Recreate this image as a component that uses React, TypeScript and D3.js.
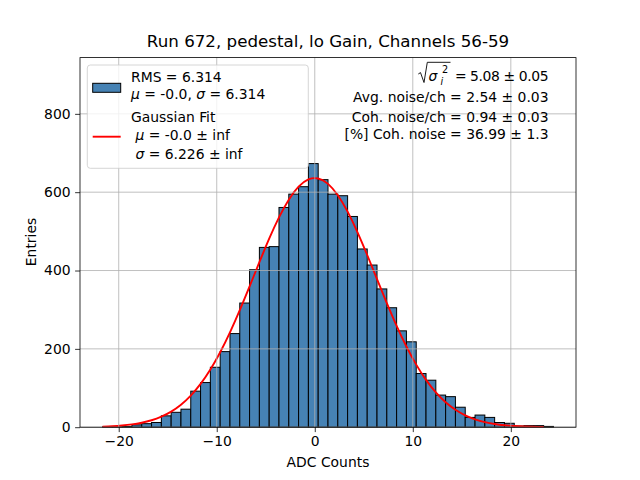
import { useEffect, useRef } from 'react';
import * as d3 from 'd3';

// histogram of ADC counts, bins of width 1 starting at -21.65
const binStart = -21.65;
const binWidth = 1.0;
const counts = [
  1, 1, 2, 6, 9, 12, 29, 38, 46, 92, 114, 153, 193, 239, 317, 402, 459, 461,
  561, 595, 614, 673, 632, 595, 591, 538, 455, 414, 353, 305, 246, 218, 137, 120,
  82, 78, 51, 25, 31, 25, 12, 10, 3, 4, 4, 2,
];
const xTicks = [-20, -10, 0, 10, 20];
const yTicks = [0, 200, 400, 600, 800];

// gaussian fit parameters
const fitMu = 0.0;
const fitSigma = 6.226;
const fitAmp = 636;

const title = 'Run 672, pedestal, lo Gain, Channels 56-59';
const noiseLines = [
  'Avg. noise/ch = 2.54 ± 0.03',
  'Coh. noise/ch = 0.94 ± 0.03',
  '[%] Coh. noise = 36.99 ± 1.3',
];

const FONT = '"DejaVu Sans", sans-serif';

export default function App() {
  const svgRef = useRef<SVGSVGElement>(null);

  useEffect(() => {
    if (!svgRef.current) return;
    const svg = d3.select(svgRef.current);
    svg.selectAll('*').remove();

    const left = 80, right = 576, top = 57.6, bottom = 427.2;

    const x = d3.scaleLinear().domain([-23.95, 26.65]).range([left, right]);
    const y = d3.scaleLinear().domain([0, 943.6]).range([bottom, top]);

    const bins = counts.map((c, i) => ({
      x0: binStart + i * binWidth,
      x1: binStart + (i + 1) * binWidth,
      value: c,
    }));

    // bars
    svg.append('g')
      .selectAll('rect')
      .data(bins)
      .enter()
      .append('rect')
      .attr('x', d => x(d.x0))
      .attr('y', d => y(d.value))
      .attr('width', d => x(d.x1) - x(d.x0))
      .attr('height', d => y(0) - y(d.value))
      .attr('fill', '#4682b4')
      .attr('stroke', '#000')
      .attr('stroke-width', 1);

    // fit curve, evaluated at the bin left edges
    const fitPts = bins.map(b => [b.x0, fitAmp * Math.exp(-((b.x0 - fitMu) ** 2) / (2 * fitSigma ** 2))]);
    const line = d3.line<number[]>()
      .x(d => x(d[0]))
      .y(d => y(d[1]))
      .curve(d3.curveNatural);
    svg.append('path')
      .attr('d', line(fitPts))
      .attr('fill', 'none')
      .attr('stroke', 'red')
      .attr('stroke-width', 1.9);

    // grid on top of patches, like matplotlib
    const grid = svg.append('g').attr('stroke', '#b0b0b0').attr('stroke-width', 0.8);
    xTicks.forEach(t => {
      grid.append('line').attr('x1', x(t)).attr('x2', x(t)).attr('y1', top).attr('y2', bottom);
    });
    yTicks.forEach(t => {
      grid.append('line').attr('x1', left).attr('x2', right).attr('y1', y(t)).attr('y2', y(t));
    });

    // axes
    const xAxis = d3.axisBottom(x).tickValues(xTicks).tickSize(4.9).tickPadding(4)
      .tickFormat(d => d3.format('d')(d as number).replace('-', '\u2212'));
    const gx = svg.append('g').attr('transform', `translate(0,${bottom})`).call(xAxis);
    const yAxis = d3.axisLeft(y).tickValues(yTicks).tickSize(4.9).tickPadding(4.5);
    const gy = svg.append('g').attr('transform', `translate(${left},0)`).call(yAxis);
    [gx, gy].forEach(g => {
      g.select('.domain').remove();
      g.selectAll('.tick line').attr('stroke', '#000').attr('stroke-width', 0.8);
      g.selectAll('.tick text')
        .attr('font-family', FONT)
        .attr('font-size', 13.9)
        .attr('fill', '#000');
    });
    gx.selectAll('.tick text').attr('dy', '0.72em');

    // frame
    svg.append('rect')
      .attr('x', left).attr('y', top)
      .attr('width', right - left).attr('height', bottom - top)
      .attr('fill', 'none').attr('stroke', '#000').attr('stroke-width', 0.8);

    const txt = (s: string, tx: number, ty: number, opts: any = {}) =>
      svg.append('text')
        .attr('x', tx).attr('y', ty)
        .attr('font-family', FONT)
        .attr('font-size', opts.size || 13.9)
        .attr('text-anchor', opts.anchor || 'start')
        .attr('fill', '#000')
        .text(s);

    txt(title, 328, 47, { anchor: 'middle', size: 16.7 });
    txt('ADC Counts', 328, 467, { anchor: 'middle' });
    txt('Entries', 0, 0, { anchor: 'middle' }).attr('transform', 'translate(36,242) rotate(-90)');

    // legend
    svg.append('rect')
      .attr('x', 87.3).attr('y', 65)
      .attr('width', 221).attr('height', 103.3)
      .attr('rx', 3)
      .attr('fill', 'white').attr('fill-opacity', 0.8)
      .attr('stroke', '#cccccc').attr('stroke-width', 0.8);
    svg.append('rect')
      .attr('x', 92.7).attr('y', 83.3).attr('width', 28).attr('height', 9)
      .attr('fill', '#4682b4').attr('stroke', '#000').attr('stroke-width', 1);
    svg.append('line')
      .attr('x1', 92.7).attr('x2', 120.7).attr('y1', 136.7).attr('y2', 136.7)
      .attr('stroke', 'red').attr('stroke-width', 1.9);

    const mathText = (parts: [string, boolean][], tx: number, ty: number) => {
      const t = txt('', tx, ty).attr('xml:space', 'preserve');
      parts.forEach(([s, it]) => {
        t.append('tspan').attr('font-style', it ? 'italic' : 'normal').text(s);
      });
      return t;
    };
    txt('RMS = 6.314', 131, 81.7);
    mathText([['μ', true], [' = -0.0, ', false], ['σ', true], [' = 6.314', false]], 131, 99.3);
    txt('Gaussian Fit', 131, 121.7);
    mathText([['\u00a0', false], ['μ', true], [' = -0.0 ± inf', false]], 131, 140);
    mathText([['\u00a0', false], ['σ', true], [' = 6.226 ± inf', false]], 131, 159);

    // noise text block (upper right)
    txt('=', 455, 81);
    txt('5.08 ± 0.05', 470, 81).attr('textLength', 78.5).attr('lengthAdjust', 'spacing');
    svg.append('text').attr('x', 428.5).attr('y', 81)
      .attr('font-family', FONT).attr('font-size', 13.9).attr('font-style', 'italic').text('σ');
    svg.append('text').attr('x', 440.5).attr('y', 85)
      .attr('font-family', FONT).attr('font-size', 9.7).attr('font-style', 'italic').text('i');
    svg.append('text').attr('x', 442).attr('y', 73)
      .attr('font-family', FONT).attr('font-size', 9.7).text('2');
    svg.append('path')
      .attr('d', 'M418.3,74 L420.5,72.6 L424,82.5 L427.3,62.3 L450.5,62.3')
      .attr('fill', 'none').attr('stroke', '#000').attr('stroke-width', 0.9);
    const lineY = [101.7, 121.7, 139.3];
    noiseLines.forEach((s, i) => txt(s, 548.5, lineY[i], { anchor: 'end' }));
  }, []);

  return (
    <div style={{ position: 'absolute', left: 0, top: 0, width: 640, height: 480, background: 'white' }}>
      <svg ref={svgRef} width={640} height={480} style={{ display: 'block' }}></svg>
    </div>
  );
}
